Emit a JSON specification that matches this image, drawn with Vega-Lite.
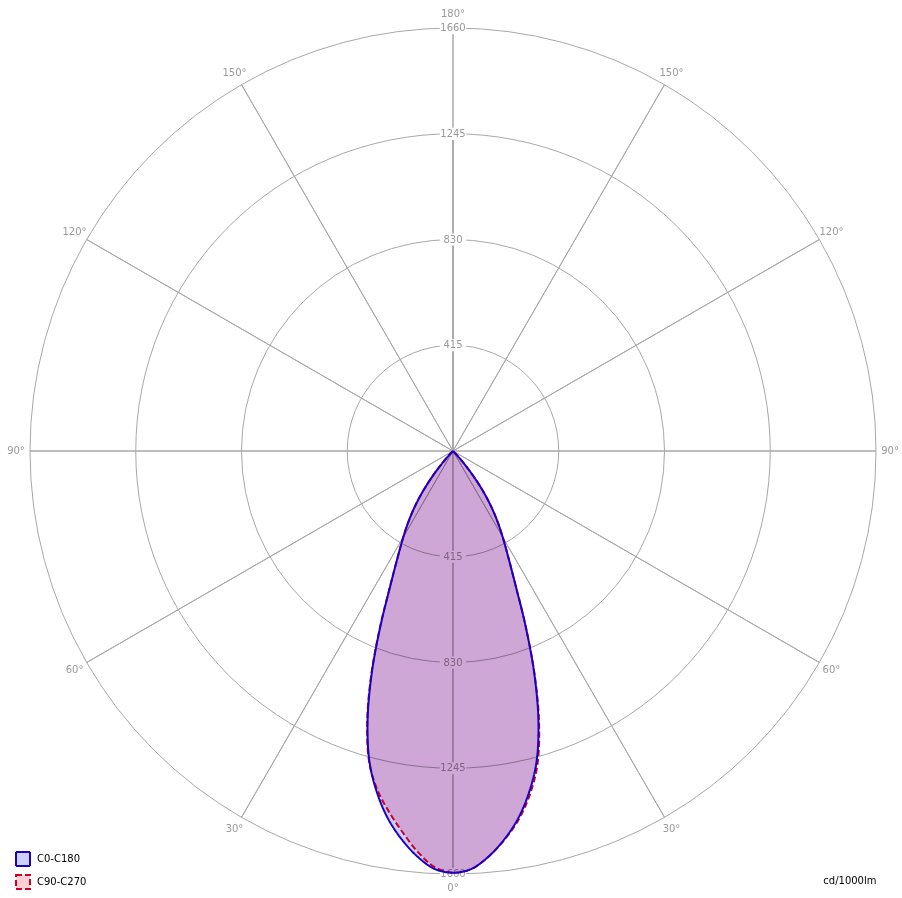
{
  "$schema": "https://vega.github.io/schema/vega-lite/v6.json",
  "autosize": {"type": "none"},
  "width": 846,
  "height": 846,
  "padding": {"left": 30, "top": 28, "right": 26, "bottom": 24},
  "background": "white",
  "config": {"view": {"stroke": null}},
  "datasets": {
    "sectors": [
      {"t": 0, "t2": 30}, {"t": 30, "t2": 60}, {"t": 60, "t2": 90}, {"t": 90, "t2": 120},
      {"t": 120, "t2": 150}, {"t": 150, "t2": 180}, {"t": 180, "t2": 210}, {"t": 210, "t2": 240},
      {"t": 240, "t2": 270}, {"t": 270, "t2": 300}, {"t": 300, "t2": 330}, {"t": 330, "t2": 360}
    ],
    "rings": [{"v": 415, "t": 0, "t2": 360}, {"v": 830, "t": 0, "t2": 360}, {"v": 1245, "t": 0, "t2": 360}],
    "ringlabels": [
      {"lab": "415", "yv": 415}, {"lab": "415", "yv": -415},
      {"lab": "830", "yv": 830}, {"lab": "830", "yv": -830},
      {"lab": "1245", "yv": 1245}, {"lab": "1245", "yv": -1245},
      {"lab": "1660", "yv": 1660}, {"lab": "1660", "yv": -1660}
    ],
    "anglelabels": [
      {"lab": "180°", "t": 0}, {"lab": "150°", "t": 30}, {"lab": "150°", "t": 330},
      {"lab": "120°", "t": 60}, {"lab": "120°", "t": 300}, {"lab": "90°", "t": 90},
      {"lab": "90°", "t": 270}, {"lab": "60°", "t": 120}, {"lab": "60°", "t": 240},
      {"lab": "30°", "t": 150}, {"lab": "30°", "t": 210}, {"lab": "0°", "t": 180}
    ],
    "lobe": [
      {"p": "C0-C180", "a": -90, "i": 0}, {"p": "C0-C180", "a": -50, "i": 0},
      {"p": "C0-C180", "a": -45, "i": 8}, {"p": "C0-C180", "a": -42.5, "i": 40},
      {"p": "C0-C180", "a": -40, "i": 100}, {"p": "C0-C180", "a": -37.5, "i": 175},
      {"p": "C0-C180", "a": -35, "i": 250}, {"p": "C0-C180", "a": -32.5, "i": 320},
      {"p": "C0-C180", "a": -30, "i": 390}, {"p": "C0-C180", "a": -27.5, "i": 470},
      {"p": "C0-C180", "a": -25, "i": 580}, {"p": "C0-C180", "a": -22.5, "i": 745},
      {"p": "C0-C180", "a": -20, "i": 935}, {"p": "C0-C180", "a": -17.5, "i": 1115},
      {"p": "C0-C180", "a": -15, "i": 1265}, {"p": "C0-C180", "a": -12.5, "i": 1375},
      {"p": "C0-C180", "a": -10, "i": 1466}, {"p": "C0-C180", "a": -7.5, "i": 1538},
      {"p": "C0-C180", "a": -5, "i": 1598}, {"p": "C0-C180", "a": -2.5, "i": 1642},
      {"p": "C0-C180", "a": 0, "i": 1655},
      {"p": "C0-C180", "a": 2.5, "i": 1642}, {"p": "C0-C180", "a": 5, "i": 1598},
      {"p": "C0-C180", "a": 7.5, "i": 1538}, {"p": "C0-C180", "a": 10, "i": 1466},
      {"p": "C0-C180", "a": 12.5, "i": 1375}, {"p": "C0-C180", "a": 15, "i": 1265},
      {"p": "C0-C180", "a": 17.5, "i": 1115}, {"p": "C0-C180", "a": 20, "i": 935},
      {"p": "C0-C180", "a": 22.5, "i": 745}, {"p": "C0-C180", "a": 25, "i": 580},
      {"p": "C0-C180", "a": 27.5, "i": 470}, {"p": "C0-C180", "a": 30, "i": 390},
      {"p": "C0-C180", "a": 32.5, "i": 320}, {"p": "C0-C180", "a": 35, "i": 250},
      {"p": "C0-C180", "a": 37.5, "i": 175}, {"p": "C0-C180", "a": 40, "i": 100},
      {"p": "C0-C180", "a": 42.5, "i": 40}, {"p": "C0-C180", "a": 45, "i": 8},
      {"p": "C0-C180", "a": 50, "i": 0}, {"p": "C0-C180", "a": 90, "i": 0},

      {"p": "C90-C270", "a": -90, "i": 0}, {"p": "C90-C270", "a": -50, "i": 0},
      {"p": "C90-C270", "a": -45, "i": 8}, {"p": "C90-C270", "a": -42.5, "i": 40},
      {"p": "C90-C270", "a": -40, "i": 100}, {"p": "C90-C270", "a": -37.5, "i": 175},
      {"p": "C90-C270", "a": -35, "i": 250}, {"p": "C90-C270", "a": -32.5, "i": 320},
      {"p": "C90-C270", "a": -30, "i": 390}, {"p": "C90-C270", "a": -27.5, "i": 470},
      {"p": "C90-C270", "a": -25, "i": 582}, {"p": "C90-C270", "a": -22.5, "i": 748},
      {"p": "C90-C270", "a": -20, "i": 940}, {"p": "C90-C270", "a": -17.5, "i": 1120},
      {"p": "C90-C270", "a": -15, "i": 1268}, {"p": "C90-C270", "a": -12.5, "i": 1365},
      {"p": "C90-C270", "a": -10, "i": 1440}, {"p": "C90-C270", "a": -7.5, "i": 1510},
      {"p": "C90-C270", "a": -5, "i": 1580}, {"p": "C90-C270", "a": -2.5, "i": 1635},
      {"p": "C90-C270", "a": 0, "i": 1655},
      {"p": "C90-C270", "a": 2.5, "i": 1642}, {"p": "C90-C270", "a": 5, "i": 1598},
      {"p": "C90-C270", "a": 7.5, "i": 1540}, {"p": "C90-C270", "a": 10, "i": 1472},
      {"p": "C90-C270", "a": 12.5, "i": 1386}, {"p": "C90-C270", "a": 15, "i": 1278},
      {"p": "C90-C270", "a": 17.5, "i": 1124}, {"p": "C90-C270", "a": 20, "i": 938},
      {"p": "C90-C270", "a": 22.5, "i": 746}, {"p": "C90-C270", "a": 25, "i": 580},
      {"p": "C90-C270", "a": 27.5, "i": 470}, {"p": "C90-C270", "a": 30, "i": 390},
      {"p": "C90-C270", "a": 32.5, "i": 320}, {"p": "C90-C270", "a": 35, "i": 250},
      {"p": "C90-C270", "a": 37.5, "i": 175}, {"p": "C90-C270", "a": 40, "i": 100},
      {"p": "C90-C270", "a": 42.5, "i": 40}, {"p": "C90-C270", "a": 45, "i": 8},
      {"p": "C90-C270", "a": 50, "i": 0}, {"p": "C90-C270", "a": 90, "i": 0}
    ]
  },
  "layer": [
    {
      "data": {"name": "sectors"},
      "mark": {"type": "arc", "fillOpacity": 0, "stroke": "#a8a8a8", "strokeWidth": 1},
      "encoding": {
        "theta": {"field": "t", "type": "quantitative", "stack": null, "scale": {"domain": [0, 360], "range": [0, 6.283185307]}},
        "theta2": {"field": "t2"},
        "radius": {"datum": 1660, "type": "quantitative", "stack": null, "scale": {"type": "linear", "domain": [0, 1660], "range": [0, 423], "zero": true, "nice": false}}
      }
    },
    {
      "data": {"name": "rings"},
      "mark": {"type": "arc", "fillOpacity": 0, "stroke": "#a8a8a8", "strokeWidth": 1},
      "encoding": {
        "theta": {"field": "t", "type": "quantitative", "stack": null},
        "theta2": {"field": "t2"},
        "radius": {"field": "v", "type": "quantitative", "stack": null}
      }
    },
    {
      "data": {"name": "ringlabels"},
      "mark": {"type": "point", "shape": "M-1.2,-0.55H1.2V0.55H-1.2Z", "filled": true, "fill": "white", "stroke": null, "opacity": 1, "size": 484},
      "encoding": {
        "x": {"datum": 0, "type": "quantitative", "scale": {"domain": [-1660, 1660], "nice": false, "zero": false},
          "axis": {"domain": false, "ticks": false, "labels": false, "grid": false, "title": "cd/1000lm", "titleAnchor": "end", "titleAlign": "right", "titleBaseline": "top", "titleFont": "DejaVu Sans", "titleFontSize": 10, "titleFontWeight": "normal", "titleColor": "#000000", "titlePadding": 1}},
        "y": {"field": "yv", "type": "quantitative", "scale": {"domain": [-1660, 1660], "nice": false, "zero": false}, "axis": null}
      }
    },
    {
      "data": {"name": "ringlabels"},
      "mark": {"type": "text", "font": "DejaVu Sans", "fontSize": 10, "color": "#999999", "baseline": "middle", "align": "center"},
      "encoding": {
        "x": {"datum": 0, "type": "quantitative"},
        "y": {"field": "yv", "type": "quantitative"},
        "text": {"field": "lab"}
      }
    },
    {
      "data": {"name": "anglelabels"},
      "mark": {"type": "text", "font": "DejaVu Sans", "fontSize": 10, "color": "#999999", "baseline": "middle", "align": "center"},
      "encoding": {
        "theta": {"field": "t", "type": "quantitative", "stack": null},
        "radius": {"datum": 1715, "type": "quantitative", "stack": null},
        "text": {"field": "lab"}
      }
    },
    {
      "data": {"name": "lobe"},
      "transform": [
        {"filter": "datum.p == 'C0-C180'"},
        {"calculate": "datum.i * sin(datum.a * PI / 180)", "as": "x"},
        {"calculate": "-datum.i * cos(datum.a * PI / 180)", "as": "y"}
      ],
      "mark": {"type": "line", "interpolate": "catmull-rom", "fillOpacity": 1, "strokeWidth": 0, "strokeOpacity": 0, "blend": "multiply"},
      "encoding": {
        "x": {"field": "x", "type": "quantitative"},
        "y": {"field": "y", "type": "quantitative"},
        "order": {"field": "a", "type": "quantitative"},
        "fill": {"field": "p", "type": "nominal", "scale": {"domain": ["C0-C180", "C90-C270"], "range": ["#cfcfff", "#ffced6"]},
          "legend": {"orient": "none", "legendX": -15, "legendY": 823, "title": null, "symbolType": "square", "symbolSize": 196, "symbolStrokeWidth": 2, "labelFont": "DejaVu Sans", "labelFontSize": 10, "labelColor": "#000000", "rowPadding": 1, "labelOffset": 6}}
      }
    },
    {
      "data": {"name": "lobe"},
      "transform": [
        {"filter": "datum.p == 'C90-C270'"},
        {"calculate": "datum.i * sin(datum.a * PI / 180)", "as": "x"},
        {"calculate": "-datum.i * cos(datum.a * PI / 180)", "as": "y"}
      ],
      "mark": {"type": "line", "interpolate": "catmull-rom", "fillOpacity": 1, "strokeWidth": 0, "strokeOpacity": 0, "blend": "multiply"},
      "encoding": {
        "x": {"field": "x", "type": "quantitative"},
        "y": {"field": "y", "type": "quantitative"},
        "order": {"field": "a", "type": "quantitative"},
        "fill": {"field": "p", "type": "nominal"}
      }
    },
    {
      "data": {"name": "lobe"},
      "transform": [
        {"filter": "datum.p == 'C90-C270'"},
        {"calculate": "datum.i * sin(datum.a * PI / 180)", "as": "x"},
        {"calculate": "-datum.i * cos(datum.a * PI / 180)", "as": "y"}
      ],
      "mark": {"type": "line", "interpolate": "catmull-rom", "strokeWidth": 2},
      "encoding": {
        "x": {"field": "x", "type": "quantitative"},
        "y": {"field": "y", "type": "quantitative"},
        "order": {"field": "a", "type": "quantitative"},
        "stroke": {"field": "p", "type": "nominal", "scale": {"domain": ["C0-C180", "C90-C270"], "range": ["#1a00c0", "#cc0022"]}},
        "strokeDash": {"field": "p", "type": "nominal", "scale": {"domain": ["C0-C180", "C90-C270"], "range": [[1, 0], [6, 3]]}}
      }
    },
    {
      "data": {"name": "lobe"},
      "transform": [
        {"filter": "datum.p == 'C0-C180'"},
        {"calculate": "datum.i * sin(datum.a * PI / 180)", "as": "x"},
        {"calculate": "-datum.i * cos(datum.a * PI / 180)", "as": "y"}
      ],
      "mark": {"type": "line", "interpolate": "catmull-rom", "strokeWidth": 2},
      "encoding": {
        "x": {"field": "x", "type": "quantitative"},
        "y": {"field": "y", "type": "quantitative"},
        "order": {"field": "a", "type": "quantitative"},
        "stroke": {"field": "p", "type": "nominal"},
        "strokeDash": {"field": "p", "type": "nominal"}
      }
    }
  ]
}
